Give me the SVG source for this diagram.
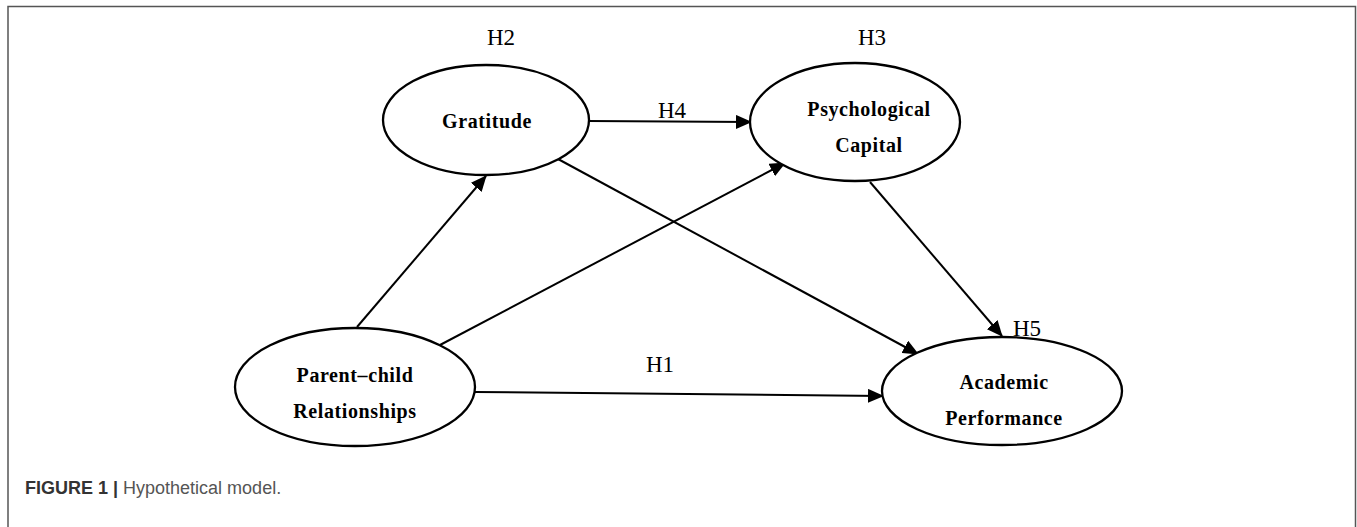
<svg xmlns="http://www.w3.org/2000/svg" width="1357" height="527" viewBox="0 0 1357 527">
<style>
.node{fill:#fff;stroke:#000;stroke-width:2.3}
.lbl{font-family:"Liberation Serif",serif;font-weight:bold;font-size:20px;fill:#000;text-anchor:middle;letter-spacing:0.6px}
.h{font-family:"Liberation Serif",serif;font-size:23px;fill:#000;text-anchor:middle}
.edge{stroke:#000;stroke-width:2;fill:none;marker-end:url(#arr)}
.cap{font-family:"Liberation Sans",Arial,sans-serif;font-size:18px}
</style>
<defs>
<marker id="arr" markerUnits="userSpaceOnUse" markerWidth="16" markerHeight="14" refX="15" refY="7" orient="auto">
<path d="M0,0 L16,7 L0,14 Z" fill="#000"/>
</marker>
</defs>
<rect width="1357" height="527" fill="#fff"/>
<path d="M8,540 L8,6.5 L1355.5,6.5 L1355.5,540" fill="none" stroke="#555" stroke-width="1.5"/>
<g id="connectors">
<line class="edge" x1="588" y1="121" x2="751" y2="122"/>
<line class="edge" x1="357" y1="327" x2="486" y2="176"/>
<line class="edge" x1="440" y1="345" x2="785" y2="163"/>
<line class="edge" x1="558" y1="159" x2="918" y2="354"/>
<line class="edge" x1="870" y1="182" x2="1002" y2="336"/>
<line class="edge" x1="475" y1="392" x2="883" y2="396"/>
</g>
<g id="gratitude">
<ellipse class="node" cx="486" cy="120" rx="103" ry="55"/>
<text class="lbl" x="487" y="128">Gratitude</text>
</g>
<g id="psychological-capital">
<ellipse class="node" cx="855" cy="122" rx="105" ry="59"/>
<text class="lbl" x="869" y="116">Psychological</text>
<text class="lbl" x="869" y="152">Capital</text>
</g>
<g id="parent-child">
<ellipse class="node" cx="355" cy="387" rx="120" ry="59"/>
<text class="lbl" x="355" y="382">Parent–child</text>
<text class="lbl" x="355" y="418">Relationships</text>
</g>
<g id="academic-performance">
<ellipse class="node" cx="1002" cy="391" rx="120" ry="54"/>
<text class="lbl" x="1004" y="389">Academic</text>
<text class="lbl" x="1004" y="425">Performance</text>
</g>
<g id="hypothesis-labels">
<text class="h" x="501" y="45">H2</text>
<text class="h" x="872" y="45">H3</text>
<text class="h" x="672" y="118">H4</text>
<text class="h" x="660" y="372">H1</text>
<text class="h" x="1027" y="336">H5</text>
</g>
<g id="caption">
<text class="cap" x="25" y="494"><tspan font-weight="bold" fill="#333">FIGURE 1 |</tspan><tspan fill="#555"> Hypothetical model.</tspan></text>
</g>
</svg>
